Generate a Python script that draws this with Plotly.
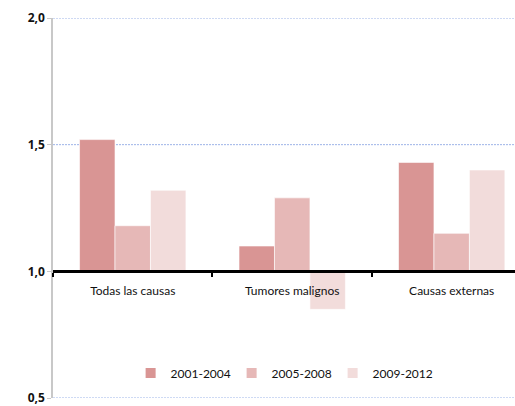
import plotly.graph_objects as go

categories = ["Todas las causas", "Tumores malignos", "Causas externas"]
periods = ["2001-2004", "2005-2008", "2009-2012"]
values_2001_2004 = [1.52, 1.10, 1.43]
values_2005_2008 = [1.18, 1.29, 1.15]
values_2009_2012 = [1.32, 0.85, 1.40]
colors = ["#D99594", "#E6B8B7", "#F2DCDB"]
y_ticks = [0.5, 1.0, 1.5, 2.0]

baseline = 1.0
series = [values_2001_2004, values_2005_2008, values_2009_2012]

fig = go.Figure()
for name, vals, col in zip(periods, series, colors):
    fig.add_trace(go.Bar(
        x=categories,
        y=[v - baseline for v in vals],
        base=baseline,
        name=name,
        marker=dict(color=col, line=dict(color="white", width=0.6)),
        hovertemplate="%{x}: %{customdata}<extra></extra>",
        customdata=vals,
    ))

# dotted horizontal guides at every y tick (the baseline gets the thick axis line)
for t in y_ticks:
    if t == baseline:
        continue
    fig.add_shape(type="line", xref="paper", yref="y", x0=0, x1=1, y0=t, y1=t,
                  line=dict(color="#9db4e8", width=1, dash="2px,1px"), layer="below")

fig.update_layout(
    width=515, height=406,
    margin=dict(l=53, r=0, t=18, b=5),
    paper_bgcolor="white", plot_bgcolor="white",
    barmode="group", bargap=0.333, bargroupgap=0,
    separators=",.",
    font=dict(family="Lato, 'Open Sans', sans-serif", size=12, color="#111111"),
    showlegend=True,
    legend=dict(orientation="h", x=0.168, xanchor="left", y=0.066, yanchor="middle",
                entrywidth=56, entrywidthmode="pixels", tracegroupgap=0,
                font=dict(size=12, color="#111111"), itemsizing="constant"),
    xaxis=dict(
        type="category", range=[-0.5, 2.397],
        anchor="free", position=1/3,
        showline=True, linecolor="black", linewidth=3,
        ticks="outside", tickson="boundaries", ticklen=4, tickwidth=2, tickcolor="black",
        ticklabelstandoff=7,
        showgrid=False, zeroline=False,
        tickfont=dict(size=12, color="#111111"),
    ),
    yaxis=dict(
        range=[0.5, 2.0], tickvals=y_ticks, tickformat=".1f",
        showline=True, linecolor="#c8c8c8", linewidth=1.5,
        ticks="outside", ticklen=4, tickcolor="#c8c8c8",
        ticklabeloverflow="allow",
        showgrid=False, zeroline=False,
        tickfont=dict(size=12, color="#111111", family="'Open Sans'", weight="bold"),
    ),
)

fig.write_html("out.html")
